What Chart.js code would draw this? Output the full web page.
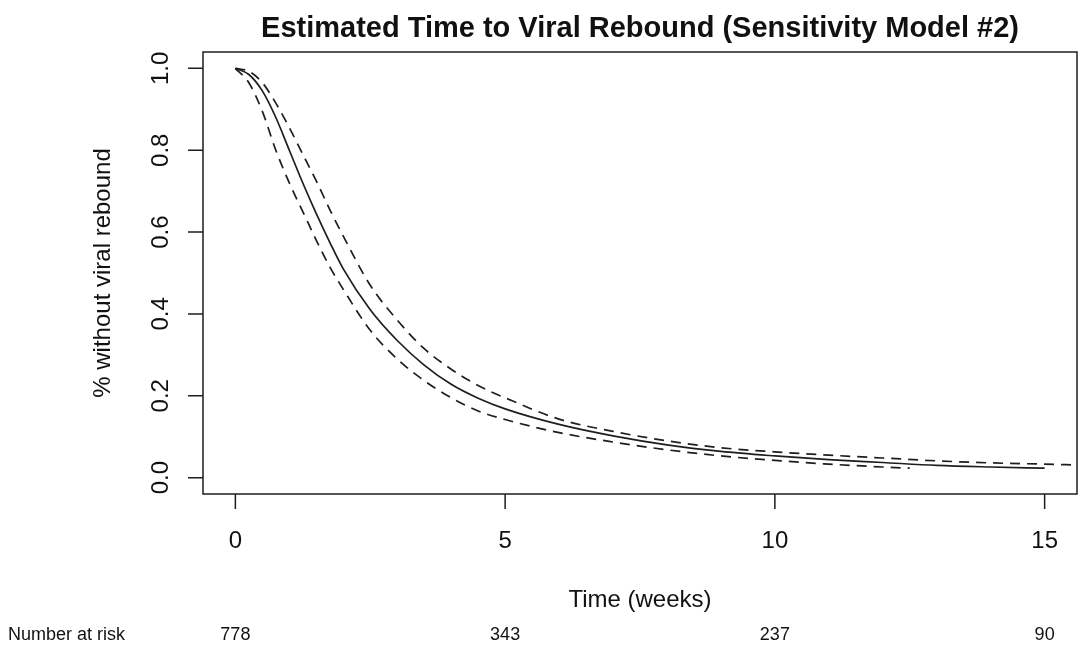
<!DOCTYPE html>
<html>
<head>
<meta charset="utf-8">
<script src="https://cdn.jsdelivr.net/npm/chart.js@4.4.0/dist/chart.umd.min.js"></script>
<style>
  html, body { margin: 0; padding: 0; background: #fff; }
  #wrap { width: 1078px; height: 647px; }
</style>
</head>
<body>
<div id="wrap"><canvas id="chart" width="1078" height="647"></canvas></div>
<script>
// Textos
const chartTitle = 'Estimated Time to Viral Rebound (Sensitivity Model #2)';
const xAxisTitle = 'Time (weeks)';
const yAxisTitle = '% without viral rebound';
const riskLabel = 'Number at risk';

// Ticks
const xTicks = [0, 5, 10, 15];
const xTickLabels = ['0', '5', '10', '15'];
const yTicks = [0, 0.2, 0.4, 0.6, 0.8, 1.0];
const yTickLabels = ['0.0', '0.2', '0.4', '0.6', '0.8', '1.0'];

// Number at risk
const riskTimes = [0, 5, 10, 15];
const riskCounts = [778, 343, 237, 90];

// Curva estimada (línea sólida)
const estTimes = [0, 0.25, 0.5, 0.75, 1, 1.25, 1.5, 1.75, 2, 2.5, 3, 3.5, 4, 4.5, 5, 6, 7, 8, 9, 10, 11, 12, 13, 14, 15];
const estimate = [1.0, 0.985, 0.945, 0.88, 0.80, 0.72, 0.645, 0.575, 0.51, 0.41, 0.335, 0.275, 0.228, 0.194, 0.168, 0.130, 0.102, 0.080, 0.064, 0.053, 0.044, 0.037, 0.030, 0.026, 0.023];

// Banda superior (discontinua)
const upperTimes = [0, 0.25, 0.5, 0.75, 1, 1.25, 1.5, 1.75, 2, 2.5, 3, 3.5, 4, 4.5, 5, 6, 7, 8, 9, 10, 11, 12, 13, 14, 15, 15.6];
const upperBound = [1.0, 0.993, 0.965, 0.915, 0.855, 0.79, 0.725, 0.655, 0.59, 0.47, 0.385, 0.315, 0.265, 0.225, 0.195, 0.143, 0.113, 0.090, 0.073, 0.063, 0.055, 0.048, 0.041, 0.036, 0.033, 0.031];

// Banda inferior (discontinua)
const lowerTimes = [0, 0.25, 0.5, 0.75, 1, 1.25, 1.5, 1.75, 2, 2.5, 3, 3.5, 4, 4.5, 5, 6, 7, 8, 9, 10, 11, 12, 12.5];
const lowerBound = [1.0, 0.965, 0.895, 0.80, 0.72, 0.65, 0.58, 0.515, 0.46, 0.36, 0.29, 0.237, 0.195, 0.163, 0.142, 0.110, 0.087, 0.068, 0.053, 0.042, 0.033, 0.026, 0.023];

const ink = '#1e1e1e';
const fontFamily = "'Liberation Sans', Arial, Helvetica, sans-serif";

function toPoints(xs, ys) {
  return xs.map((x, i) => ({ x: x, y: ys[i] }));
}

// Ejes al estilo R: caja, marcas y textos
const rStyleAxes = {
  id: 'rStyleAxes',
  afterDraw(chart) {
    const ctx = chart.ctx;
    const area = chart.chartArea;
    const xs = chart.scales.x;
    const ys = chart.scales.y;
    const midX = (area.left + area.right) / 2;
    const midY = (area.top + area.bottom) / 2;

    ctx.save();
    ctx.strokeStyle = ink;
    ctx.lineWidth = 1.5;
    ctx.strokeRect(area.left, area.top, area.right - area.left, area.bottom - area.top);

    ctx.beginPath();
    xTicks.forEach(v => {
      const px = xs.getPixelForValue(v);
      ctx.moveTo(px, area.bottom);
      ctx.lineTo(px, area.bottom + 15);
    });
    yTicks.forEach(v => {
      const py = ys.getPixelForValue(v);
      ctx.moveTo(area.left, py);
      ctx.lineTo(area.left - 15, py);
    });
    ctx.stroke();

    ctx.fillStyle = '#111';

    // Título
    ctx.font = 'bold 29px ' + fontFamily;
    ctx.textAlign = 'center';
    ctx.textBaseline = 'alphabetic';
    ctx.fillText(chartTitle, midX, 37);

    // Etiquetas eje X
    ctx.font = '24px ' + fontFamily;
    ctx.textBaseline = 'middle';
    xTicks.forEach((v, i) => {
      ctx.fillText(xTickLabels[i], xs.getPixelForValue(v), 541);
    });
    ctx.fillText(xAxisTitle, midX, 600);

    // Etiquetas eje Y (rotadas)
    yTicks.forEach((v, i) => {
      ctx.save();
      ctx.translate(161, ys.getPixelForValue(v));
      ctx.rotate(-Math.PI / 2);
      ctx.fillText(yTickLabels[i], 0, 0);
      ctx.restore();
    });
    ctx.save();
    ctx.translate(103, midY);
    ctx.rotate(-Math.PI / 2);
    ctx.fillText(yAxisTitle, 0, 0);
    ctx.restore();

    // Number at risk
    ctx.font = '18px ' + fontFamily;
    ctx.textBaseline = 'alphabetic';
    ctx.textAlign = 'left';
    ctx.fillText(riskLabel, 8, 640);
    ctx.textAlign = 'center';
    riskTimes.forEach((t, i) => {
      ctx.fillText(String(riskCounts[i]), xs.getPixelForValue(t), 640);
    });
    ctx.restore();
  }
};

const lineStyle = {
  borderColor: ink,
  borderWidth: 1.7,
  pointRadius: 0,
  fill: false,
  cubicInterpolationMode: 'monotone',
  showLine: true
};

new Chart(document.getElementById('chart').getContext('2d'), {
  type: 'scatter',
  data: {
    datasets: [
      Object.assign({ label: 'Estimate', data: toPoints(estTimes, estimate) }, lineStyle),
      Object.assign({ label: 'Upper', data: toPoints(upperTimes, upperBound), borderDash: [10, 7] }, lineStyle),
      Object.assign({ label: 'Lower', data: toPoints(lowerTimes, lowerBound), borderDash: [10, 7] }, lineStyle)
    ]
  },
  options: {
    responsive: false,
    devicePixelRatio: 1,
    animation: false,
    layout: { padding: { left: 203, top: 52, right: 1, bottom: 153 } },
    scales: {
      x: { type: 'linear', min: -0.6, max: 15.6, display: false },
      y: { type: 'linear', min: -0.04, max: 1.04, display: false }
    },
    plugins: {
      legend: { display: false },
      tooltip: { enabled: false },
      title: { display: false }
    }
  },
  plugins: [rStyleAxes]
});
</script>
</body>
</html>
